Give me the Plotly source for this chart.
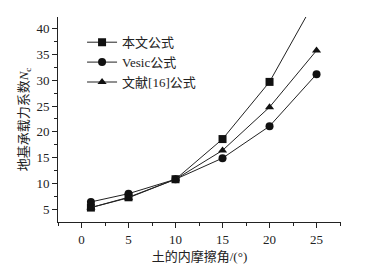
import plotly.graph_objects as go

phi = [1, 5, 10, 15, 20, 25]
nc_this = [5.3, 7.3, 10.8, 18.6, 29.7, 46.0]
nc_vesic = [6.4, 8.0, 10.8, 14.9, 21.1, 31.2]
nc_ref16 = [5.3, 7.2, 10.8, 16.4, 24.8, 35.8]
names = ["本文公式", "Vesic公式", "文献[16]公式"]
symbols = ["square", "circle", "triangle-up"]

FONT = "Liberation Serif, Times New Roman, Noto Sans CJK SC, serif"

fig = go.Figure()
for name, ys, sym in zip(names, [nc_this, nc_vesic, nc_ref16], symbols):
    fig.add_trace(go.Scatter(
        x=phi, y=ys, name=name, mode="lines+markers",
        line=dict(color="#222222", width=1),
        marker=dict(symbol=sym, size=8, color="#111111"),
        cliponaxis=True,
    ))

fig.update_layout(
    width=379, height=272,
    margin=dict(l=58, r=38, t=17, b=50),
    plot_bgcolor="white", paper_bgcolor="white",
    font=dict(family=FONT, size=13, color="#222222"),
    showlegend=True,
    legend=dict(x=0.085, y=0.95, xanchor="left", yanchor="top",
                bgcolor="rgba(0,0,0,0)", font=dict(size=13, family=FONT),
                tracegroupgap=2, itemwidth=30),
)
fig.update_xaxes(
    range=[-2.5, 27.6], tickvals=[0, 5, 10, 15, 20, 25],
    showline=True, linecolor="#222222", linewidth=1,
    ticks="outside", ticklen=5, tickcolor="#222222",
    minor=dict(tickvals=[-2.5, 2.5, 7.5, 12.5, 17.5, 22.5, 27.5], ticks="outside", ticklen=3, tickcolor="#222222"),
    showgrid=False, zeroline=False, automargin=False,
    title=dict(text="土的内摩擦角/(°)", font=dict(size=13, family=FONT), standoff=6),
)
fig.update_yaxes(
    range=[2.5, 42.3], tickvals=[5, 10, 15, 20, 25, 30, 35, 40],
    showline=True, linecolor="#222222", linewidth=1,
    ticks="outside", ticklen=5, tickcolor="#222222",
    minor=dict(tickvals=[7.5, 12.5, 17.5, 22.5, 27.5, 32.5, 37.5, 42.5], ticks="outside", ticklen=3, tickcolor="#222222"),
    showgrid=False, zeroline=False, automargin=False,
    title=dict(text="地基承载力系数<i>N</i><sub>c</sub>", font=dict(size=13, family=FONT), standoff=4),
)

fig.write_html("out.html", config={"displayModeBar": False},
               post_script="document.body.style.margin='0';")
